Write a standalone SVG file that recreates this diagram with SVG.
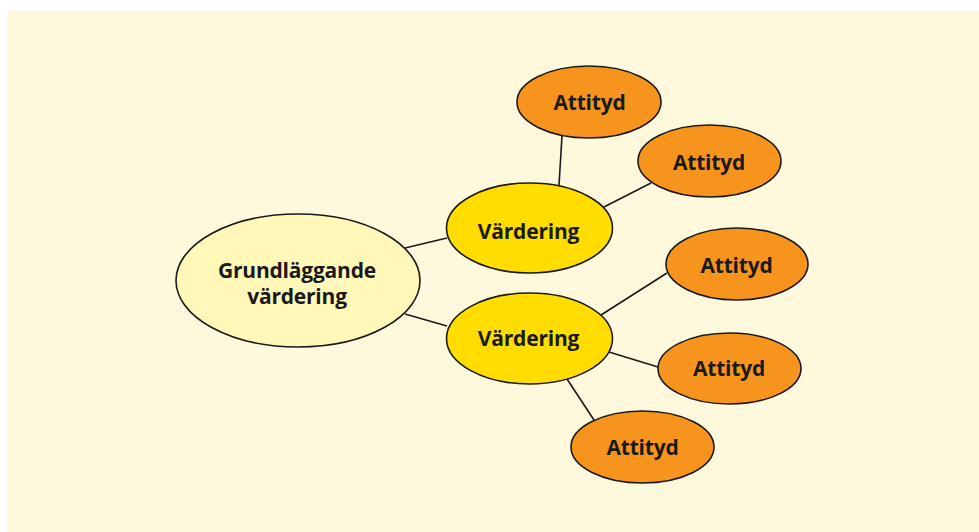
<svg xmlns="http://www.w3.org/2000/svg" width="979" height="532" viewBox="0 0 979 532">
<style>
.bg{fill:#FEF8DC}
.n{stroke:#1a1a1a;stroke-width:1.6}
.root{fill:#FFF8B8}
.val{fill:#FFDD00}
.att{fill:#F7941D}
.t{font-family:"Open Sans","Noto Sans","DejaVu Sans",sans-serif;font-weight:700;font-size:21px;letter-spacing:-0.2px;fill:#1a1a1a;text-anchor:middle}
.c{stroke:#1a1a1a;stroke-width:1.6;fill:none}
</style>
<rect x="0" y="0" width="979" height="532" fill="#ffffff"/>
<rect class="bg" x="7" y="11" width="972" height="521"/>
<g id="connectors">
<line class="c" x1="405" y1="248" x2="447" y2="238"/>
<line class="c" x1="405" y1="314" x2="447" y2="326"/>
<line class="c" x1="562" y1="136" x2="559" y2="185"/>
<line class="c" x1="651" y1="183" x2="604" y2="207"/>
<line class="c" x1="667" y1="273" x2="601" y2="315"/>
<line class="c" x1="609" y1="352" x2="658" y2="367"/>
<line class="c" x1="567" y1="379" x2="594" y2="420"/>
</g>
<g id="root">
<ellipse class="n root" cx="298" cy="280.5" rx="122" ry="66.5"/>
<text class="t" x="297" y="278">Grundläggande</text>
<text class="t" x="297" y="304">värdering</text>
</g>
<g id="vardering1">
<ellipse class="n val" cx="529.5" cy="228" rx="83" ry="45"/>
<text class="t" x="528.5" y="239">Värdering</text>
</g>
<g id="vardering2">
<ellipse class="n val" cx="529.5" cy="338.5" rx="83" ry="45.5"/>
<text class="t" x="528.5" y="346">Värdering</text>
</g>
<g id="attityd1">
<ellipse class="n att" cx="589" cy="102" rx="72" ry="36"/>
<text class="t" x="589.5" y="110">Attityd</text>
</g>
<g id="attityd2">
<ellipse class="n att" cx="709.5" cy="161" rx="71.5" ry="36"/>
<text class="t" x="709" y="170">Attityd</text>
</g>
<g id="attityd3">
<ellipse class="n att" cx="737" cy="264" rx="71" ry="36"/>
<text class="t" x="736.5" y="273">Attityd</text>
</g>
<g id="attityd4">
<ellipse class="n att" cx="729.5" cy="368.5" rx="71.5" ry="35.5"/>
<text class="t" x="729" y="376">Attityd</text>
</g>
<g id="attityd5">
<ellipse class="n att" cx="642.5" cy="447" rx="71.5" ry="36"/>
<text class="t" x="642.5" y="455">Attityd</text>
</g>
</svg>
